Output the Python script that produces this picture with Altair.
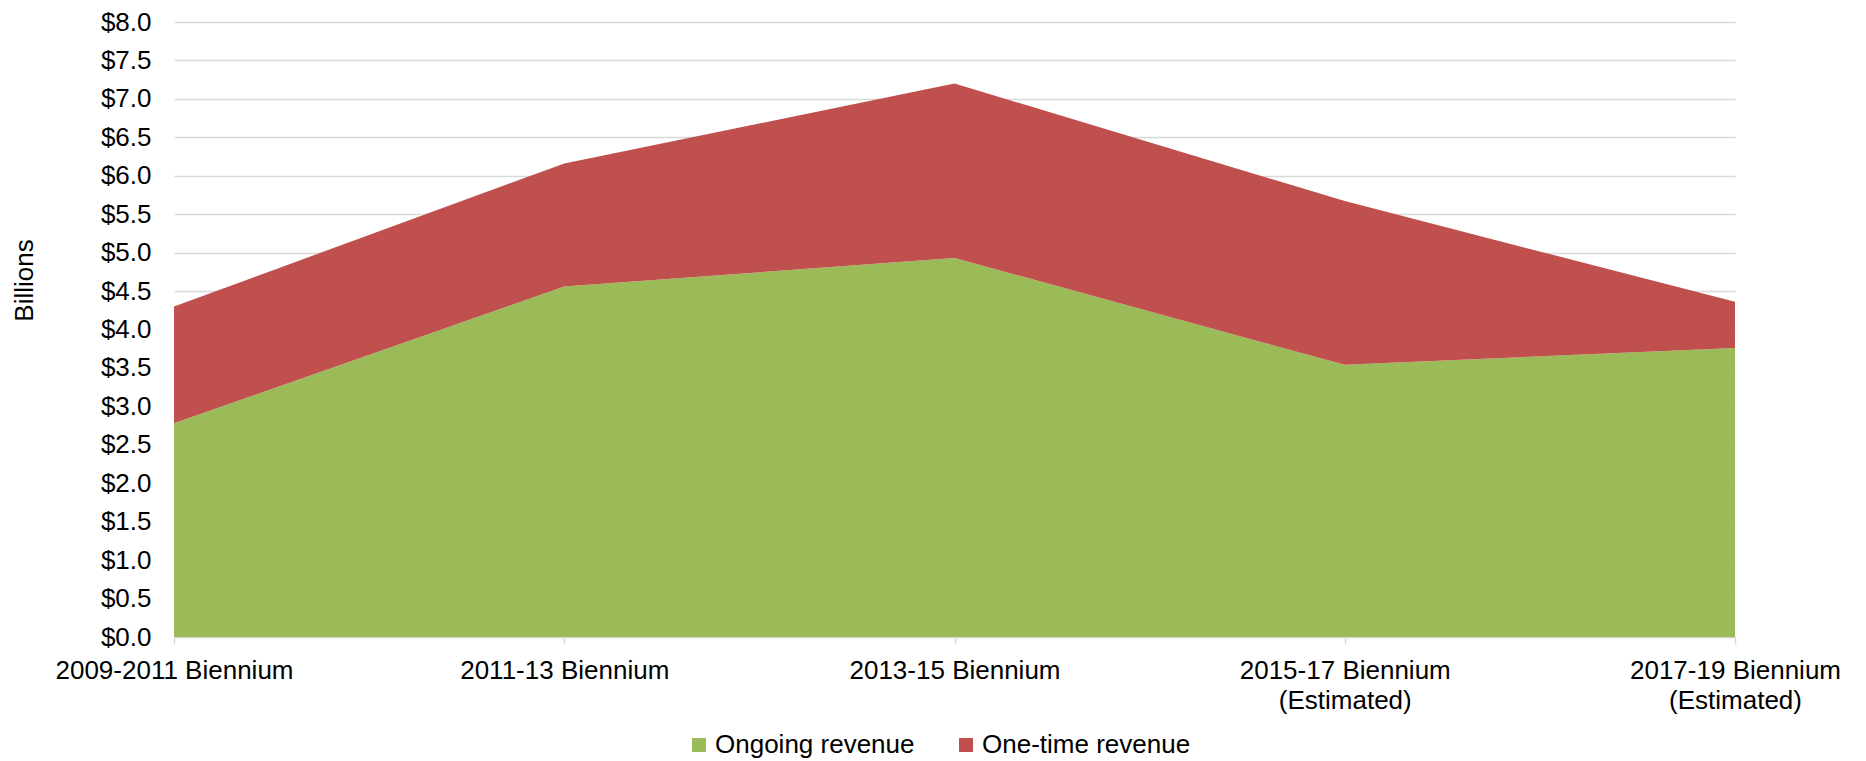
import altair as alt
import pandas as pd

categories = [
    "2009-2011 Biennium",
    "2011-13 Biennium",
    "2013-15 Biennium",
    "2015-17 Biennium\n(Estimated)",
    "2017-19 Biennium\n(Estimated)",
]
ongoing = [2.78, 4.56, 4.93, 3.54, 3.76]
one_time = [1.52, 1.60, 2.27, 2.13, 0.60]
series = ["Ongoing revenue", "One-time revenue"]
colors = ["#9BBB59", "#C0504D"]
y_ticks = [0.0, 0.5, 1.0, 1.5, 2.0, 2.5, 3.0, 3.5, 4.0, 4.5, 5.0, 5.5, 6.0, 6.5, 7.0, 7.5, 8.0]

rows = []
for i, c in enumerate(categories):
    rows.append({"cat": c, "series": series[0], "value": ongoing[i], "ord": 0})
    rows.append({"cat": c, "series": series[1], "value": one_time[i], "ord": 1})
df = pd.DataFrame(rows)

FONT = "Liberation Sans"

chart = alt.Chart(df).mark_area(opacity=1).encode(
    x=alt.X(
        "cat:N",
        sort=categories,
        scale=alt.Scale(padding=0),
        axis=alt.Axis(
            title=None,
            labelExpr="split(datum.label, '\\n')",
            labelAngle=0,
            labelFontSize=26,
            labelFont=FONT,
            labelColor="#000000",
            labelLineHeight=30,
            labelPadding=13,
            labelOverlap=False,
            labelLimit=0,
            labelBaseline="top",
            ticks=True,
            tickSize=7,
            tickColor="#D9D9D9",
            tickWidth=1.5,
            domain=True,
            domainColor="#D9D9D9",
            domainWidth=1.5,
            grid=False,
        ),
    ),
    y=alt.Y(
        "value:Q",
        stack="zero",
        scale=alt.Scale(domain=[0, 8], nice=False),
        axis=alt.Axis(
            values=y_ticks,
            format="$.1f",
            title="Billions",
            titleFont=FONT,
            titleFontSize=26,
            titleFontWeight="normal",
            titleColor="#000000",
            titleAngle=270,
            titleX=-142,
            titleY=258,
            titleAlign="center",
            titleBaseline="alphabetic",
            labelFontSize=26,
            labelFont=FONT,
            labelColor="#000000",
            labelPadding=23,
            labelLimit=0,
            ticks=False,
            tickSize=0,
            domain=False,
            grid=True,
            gridColor="#D9D9D9",
            gridWidth=1.5,
        ),
    ),
    color=alt.Color(
        "series:N",
        sort=series,
        scale=alt.Scale(domain=series, range=colors),
        legend=alt.Legend(
            title=None,
            orient="none",
            legendX=512,
            legendY=710,
            direction="horizontal",
            symbolType="square",
            symbolSize=196,
            symbolStrokeWidth=0,
            labelFont=FONT,
            labelFontSize=26,
            labelColor="#000000",
            labelOffset=3,
            labelLimit=0,
            columnPadding=38,
            padding=0,
        ),
    ),
    order=alt.Order("ord:Q", sort="ascending"),
).properties(
    width=1561,
    height=615,
    padding={"left": 166, "top": 14, "right": 122, "bottom": 121},
    autosize=alt.AutoSizeParams(type="none"),
).configure_view(stroke=None)

chart.save("out.html", embed_options={"renderer": "svg", "actions": False})
